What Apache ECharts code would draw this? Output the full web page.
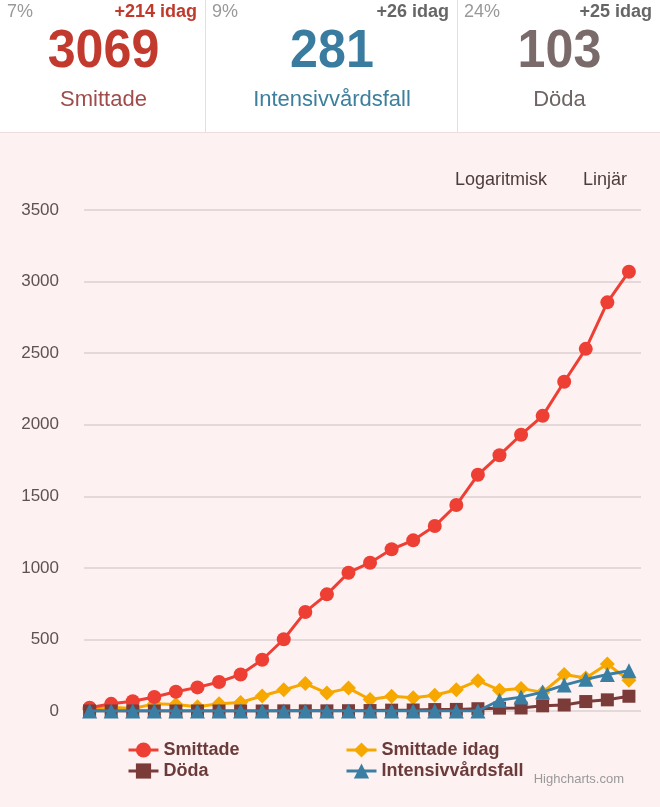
<!DOCTYPE html>
<html>
<head>
<meta charset="utf-8">
<script src="https://cdn.jsdelivr.net/npm/echarts@6/dist/echarts.min.js"></script>
<style>
html,body{margin:0;padding:0;background:#fdf2f1;}
#chart{width:660px;height:807px;}
</style>
</head>
<body>
<div id="chart"></div>
<script>
// Days (2–27 March), one point each
var days = ['2/3','3/3','4/3','5/3','6/3','7/3','8/3','9/3','10/3','11/3','12/3','13/3','14/3','15/3','16/3','17/3','18/3','19/3','20/3','21/3','22/3','23/3','24/3','25/3','26/3','27/3'];
var smittade = [23, 50, 68, 98, 135, 165, 203, 255, 358, 501, 692, 815, 966, 1036, 1130, 1192, 1292, 1439, 1650, 1787, 1930, 2062, 2300, 2530, 2855, 3069];
var smittadeIdag = [10, 27, 18, 50, 45, 30, 50, 60, 105, 148, 192, 125, 160, 80, 103, 92, 110, 148, 212, 145, 158, 130, 255, 230, 328, 214];
var doda = [0, 0, 0, 0, 0, 0, 0, 0, 0, 1, 1, 1, 2, 3, 6, 7, 10, 11, 16, 20, 21, 36, 42, 66, 78, 103];
var intensiv = [0, 0, 0, 0, 0, 0, 0, 0, 0, 0, 0, 0, 0, 0, 0, 0, 0, 0, 0, 75, 97, 132, 181, 221, 255, 281];
var yTicks = [0, 500, 1000, 1500, 2000, 2500, 3000, 3500];

var cards = [
  {pct: '7%', delta: '+214 idag', deltaColor: '#c0392b', value: '3069', valueColor: '#c23a2e', label: 'Smittade', labelColor: '#a04c4b', x0: 0, x1: 205},
  {pct: '9%', delta: '+26 idag', deltaColor: '#666666', value: '281', valueColor: '#3a7ca0', label: 'Intensivvårdsfall', labelColor: '#3d7f9c', x0: 205, x1: 457},
  {pct: '24%', delta: '+25 idag', deltaColor: '#666666', value: '103', valueColor: '#7a6a69', label: 'Döda', labelColor: '#6d6463', x0: 457, x1: 660}
];

function pairs(arr){ return arr.map(function(v,i){ return [i, v]; }); }

var FF = '"Liberation Sans", Arial, Helvetica, sans-serif';
var graphics = [
  {type:'rect', shape:{x:0,y:0,width:660,height:132}, style:{fill:'#ffffff'}, z:0},
  {type:'rect', shape:{x:0,y:132,width:660,height:1}, style:{fill:'#efdcdc'}, z:1},
  {type:'rect', shape:{x:205,y:0,width:1,height:132}, style:{fill:'#e4dede'}, z:1},
  {type:'rect', shape:{x:457,y:0,width:1,height:132}, style:{fill:'#e4dede'}, z:1}
];
cards.forEach(function(c){
  var cx = (c.x0 + c.x1) / 2 + 1;
  graphics.push({type:'text', x:c.x0 + 7, y:12, z:2, style:{text:c.pct, font:'18px ' + FF, fill:'#999999', align:'left', verticalAlign:'middle'}});
  graphics.push({type:'text', x:c.x1 - 8, y:12, z:2, style:{text:c.delta, font:'bold 18px ' + FF, fill:c.deltaColor, align:'right', verticalAlign:'middle'}});
  graphics.push({type:'text', x:cx, y:52, z:2, scaleX:0.93, style:{text:c.value, font:'bold 54px ' + FF, fill:c.valueColor, align:'center', verticalAlign:'middle'}});
  graphics.push({type:'text', x:cx, y:100, z:2, style:{text:c.label, font:'22px ' + FF, fill:c.labelColor, align:'center', verticalAlign:'middle'}});
});
graphics.push({type:'text', x:501, y:180, z:2, style:{text:'Logaritmisk', font:'18px ' + FF, fill:'#4e3c3c', align:'center', verticalAlign:'middle'}});
graphics.push({type:'text', x:605, y:180, z:2, style:{text:'Linjär', font:'18px ' + FF, fill:'#4e3c3c', align:'center', verticalAlign:'middle'}});
graphics.push({type:'text', x:624, y:779, z:2, style:{text:'Highcharts.com', font:'13px ' + FF, fill:'#999999', align:'right', verticalAlign:'middle'}});

var legendText = {fontSize: 18, fontWeight: 'bold', color: '#6b3a3a', lineHeight: 18, fontFamily: FF};
var chart = echarts.init(document.getElementById('chart'), null, {renderer:'canvas'});
chart.setOption({
  backgroundColor: '#fdf2f1',
  animation: false,
  textStyle: {fontFamily: FF},
  graphic: graphics,
  grid: {left: 84, right: 19, top: 210, bottom: 96, containLabel: false},
  xAxis: {
    type: 'value', min: -0.26, max: 25.56,
    axisLine: {show:false}, axisTick: {show:false}, axisLabel: {show:false}, splitLine: {show:false}
  },
  yAxis: {
    type: 'value', min: yTicks[0], max: yTicks[yTicks.length-1], interval: yTicks[1] - yTicks[0],
    axisLine: {show:false}, axisTick: {show:false},
    axisLabel: {fontSize: 17, color: '#5e5252', margin: 25, fontFamily: FF, formatter: function(v){ return String(v); }},
    splitLine: {lineStyle: {color: '#dccfcf', width: 1.5}}
  },
  legend: [
    {data: ['Smittade', 'Döda'], orient: 'vertical', left: 127, top: 741, padding: 0,
     itemWidth: 30, itemHeight: 19, itemGap: 3, textStyle: legendText, lineStyle: {width: 3}},
    {data: ['Smittade idag', 'Intensivvårdsfall'], orient: 'vertical', left: 345, top: 741, padding: 0,
     itemWidth: 30, itemHeight: 19, itemGap: 3, textStyle: legendText, lineStyle: {width: 3}}
  ],
  series: [
    {name: 'Smittade idag', type: 'line', data: pairs(smittadeIdag), symbol: 'diamond', symbolSize: 15,
     color: '#f6a800', lineStyle: {width: 3}, z: 2},
    {name: 'Smittade', type: 'line', data: pairs(smittade), symbol: 'circle', symbolSize: 14,
     color: '#ee3f35', lineStyle: {width: 3}, z: 3},
    {name: 'Döda', type: 'line', data: pairs(doda), symbol: 'rect', symbolSize: 13,
     color: '#7a3b39', lineStyle: {width: 3}, z: 4},
    {name: 'Intensivvårdsfall', type: 'line', data: pairs(intensiv), symbol: 'triangle', symbolSize: 15,
     color: '#3a7fa3', lineStyle: {width: 3}, z: 5}
  ]
});
</script>
</body>
</html>
